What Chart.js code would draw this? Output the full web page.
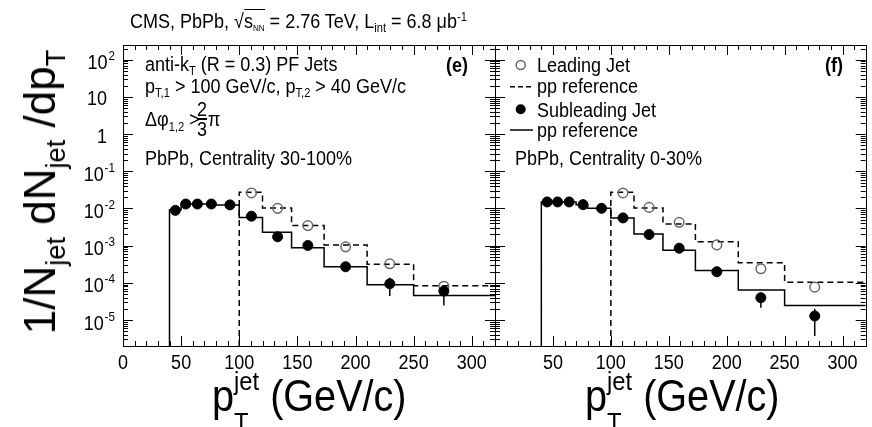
<!DOCTYPE html>
<html>
<head>
<meta charset="utf-8">
<script src="https://cdn.jsdelivr.net/npm/chart.js@4.4.1/dist/chart.umd.min.js"></script>
<style>
  body { margin: 0; background: #fff; }
  #wrap { position: relative; width: 872px; height: 427px; overflow: hidden; font-family: "Liberation Sans", Arial, sans-serif; color: #000; }
  canvas { position: absolute; left: 0; top: 0; }
  .t { position: absolute; white-space: nowrap; line-height: 1; font-size: 20px; transform: scaleX(0.9); transform-origin: 0 0; }
  .sb { position: relative; font-size: 62%; top: 0.35em; }
  .sp { position: relative; font-size: 62%; top: -0.55em; }
  .ss { display: inline-block; position: relative; font-size: 60%; }
  .ss .u { position: relative; top: -0.8em; }
  .ss .d { position: absolute; left: 0; top: 0.75em; }
  .frac { display: inline-block; vertical-align: middle; text-align: center; line-height: 0.9; margin: 0 1px 0 -3px; position: relative; top: -2px; }
  .frac span { display: block; }
  .frac .n { border-bottom: 2px solid #000; }
  .ytitle { position: absolute; left: 40px; top: 192px; font-size: 44px; line-height: 1; white-space: nowrap; transform: translate(-50%, -50%) rotate(-90deg); }
  .xtitle { font-size: 44px; }
  .leg { position: absolute; }
</style>
</head>
<body>
<div id="wrap">
  <canvas id="e" width="872" height="427"></canvas>
  <canvas id="f" width="872" height="427"></canvas>

  <div class="t" style="left:130px;top:11px">CMS, PbPb, √<span style="border-top:1px solid #000">s<span class="sb" style="font-size:45%">NN</span></span> = 2.76 TeV, L<span class="sb">int</span> = 6.8 μb<span class="sp">-1</span></div>

  <div class="ytitle">1/N<span class="sb">jet</span> dN<span class="sb">jet</span> /dp<span class="sb">T</span></div>
  <div class="t xtitle" style="left:212px;top:374px">p<span class="ss"><span class="u">jet</span><span class="d">T</span></span> (GeV/c)</div>
  <div class="t xtitle" style="left:585px;top:374px">p<span class="ss"><span class="u">jet</span><span class="d">T</span></span> (GeV/c)</div>

  <div class="t" style="left:145px;top:54px">anti-k<span class="sb">T</span> (R = 0.3) PF Jets</div>
  <div class="t" style="left:145px;top:76px">p<span class="sb">T,1</span> &gt; 100 GeV/c, p<span class="sb">T,2</span> &gt; 40 GeV/c</div>
  <div class="t" style="left:145px;top:102px">Δφ<span class="sb">1,2</span> &gt;<span class="frac"><span class="n">2</span><span>3</span></span>π</div>
  <div class="t" style="left:145px;top:148px">PbPb, Centrality 30-100%</div>
  <div class="t" style="left:446px;top:55px;font-weight:bold">(e)</div>

  <svg class="leg" style="left:505px;top:55px" width="32" height="85">
    <circle cx="15.7" cy="10" r="4.5" fill="none" stroke="#666" stroke-width="1.5"/>
    <line x1="5" y1="31.7" x2="28" y2="31.7" stroke="#000" stroke-width="1.5" stroke-dasharray="5,3"/>
    <circle cx="15.7" cy="54.3" r="5" fill="#000"/>
    <line x1="5" y1="75" x2="28" y2="75" stroke="#000" stroke-width="1.5"/>
  </svg>
  <div class="t" style="left:537px;top:55px">Leading Jet</div>
  <div class="t" style="left:537px;top:76px">pp reference</div>
  <div class="t" style="left:537px;top:100px">Subleading Jet</div>
  <div class="t" style="left:537px;top:120px">pp reference</div>
  <div class="t" style="left:515px;top:148px">PbPb, Centrality 0-30%</div>
  <div class="t" style="left:825px;top:55px;font-weight:bold">(f)</div>
</div>

<script>
// bin edges (GeV/c)
const subEdges = [40, 50, 60, 70, 80, 100, 120, 145, 173, 210, 250, 320];
const leadEdges = [100, 120, 145, 173, 210, 250, 320];
// marker positions (GeV/c)
const subX = [45, 54, 64, 76, 92, 110.5, 133, 159, 191.5, 229.5, 276];
const leadX = [110.5, 133, 159, 191.5, 229.5, 276];

// panel (e): centrality 30-100%
const ppSubE = [0.0093, 0.0132, 0.0132, 0.0132, 0.0125, 0.0057, 0.0023, 0.000875, 0.00027, 0.000089, 0.000046];
const ppLeadE = [0.0272, 0.01035, 0.00347, 0.00105, 0.000318, 0.000084];
const subE = [0.0089, 0.0132, 0.0132, 0.0132, 0.0125, 0.0062, 0.00173, 0.00101, 0.00027, 0.0000945, 0.000060];
const subLoE = [null, null, null, null, null, null, null, null, null, 0.000044, 0.0000247];
const subHiE = [null, null, null, null, null, null, null, null, null, 0.000137, 0.000081];
const leadE = [0.0262, 0.0101, 0.00347, 0.00093, 0.000325, 0.000081];

// panel (f): centrality 0-30%
const ppSubF = [0.0150, 0.0150, 0.0150, 0.0127, 0.0101, 0.00558, 0.00207, 0.000754, 0.000215, 0.0000637, 0.0000247];
const ppLeadF = [0.0272, 0.01035, 0.00385, 0.00127, 0.000346, 0.000104];
const subF = [0.0150, 0.0150, 0.0150, 0.0127, 0.0101, 0.00558, 0.00199, 0.000853, 0.000199, 0.0000398, 0.0000128];
const subLoF = [null, null, null, null, null, null, null, null, null, 0.0000214, 0.0000037];
const subHiF = [null, null, null, null, null, null, null, null, null, 0.000054, 0.000020];
const leadF = [0.0262, 0.0107, 0.00425, 0.00105, 0.000239, 0.0000766];

// axes
const xMin = 0, xMax = 320;
const yMin = 2e-6, yMax = 250;
const xTicksE = [0, 50, 100, 150, 200, 250, 300];
const xTicksF = [50, 100, 150, 200, 250, 300];
const yTicks = [1e2, 1e1, 1, 1e-1, 1e-2, 1e-3, 1e-4, 1e-5];
const yTickBase = ['10', '10', '1', '10', '10', '10', '10', '10'];
const yTickExp = ['2', '', '', '-1', '-2', '-3', '-4', '-5'];

// histogram outline: start at the bottom of the first edge, one point per bin
function hist(edges, vals) {
  const pts = [{x: edges[0], y: yMin}];
  vals.forEach((v, i) => pts.push({x: edges[i], y: v}));
  pts.push({x: edges[edges.length - 1], y: vals[vals.length - 1]});
  return pts;
}

// ROOT-like frame: inward ticks on all sides, tick labels, error bars
const rootFrame = {
  id: 'rootFrame',
  afterDatasetsDraw(chart) {
    const {ctx, chartArea: a, scales: {x, y}} = chart;
    ctx.save();
    ctx.beginPath();
    ctx.rect(a.left, a.top, a.right - a.left, a.bottom - a.top);
    ctx.clip();
    ctx.strokeStyle = '#000';
    ctx.lineWidth = 1.5;
    chart.data.datasets.forEach(ds => {
      if (!ds.errLo) return;
      ds.data.forEach((p, i) => {
        if (ds.errLo[i] == null) return;
        const px = x.getPixelForValue(p.x);
        ctx.beginPath();
        ctx.moveTo(px, y.getPixelForValue(ds.errLo[i]));
        ctx.lineTo(px, y.getPixelForValue(ds.errHi[i]));
        ctx.stroke();
      });
    });
    ctx.restore();
  },
  afterDraw(chart, args, opts) {
    const {ctx, chartArea: a, scales: {x, y}} = chart;
    ctx.save();
    ctx.strokeStyle = '#000';
    ctx.lineWidth = 1;
    ctx.strokeRect(Math.round(a.left) + 0.5, Math.round(a.top) + 0.5, Math.round(a.right - a.left), Math.round(a.bottom - a.top));
    ctx.beginPath();
    for (let v = xMin; v <= xMax; v += 10) {
      const px = Math.round(x.getPixelForValue(v)) + 0.5;
      const len = v % 50 === 0 ? 10 : 5;
      ctx.moveTo(px, a.bottom); ctx.lineTo(px, a.bottom - len);
      ctx.moveTo(px, a.top); ctx.lineTo(px, a.top + len);
    }
    for (let k = -6; k <= 2; k++) {
      for (let m = 1; m <= 9; m++) {
        const v = m * Math.pow(10, k);
        if (v < yMin || v > yMax) continue;
        const py = Math.round(y.getPixelForValue(v)) + 0.5;
        const len = m === 1 ? 10 : 5;
        ctx.moveTo(a.left, py); ctx.lineTo(a.left + len, py);
        ctx.moveTo(a.right, py); ctx.lineTo(a.right - len, py);
      }
    }
    ctx.stroke();

    ctx.fillStyle = '#000';
    ctx.textBaseline = 'middle';
    ctx.font = '20px "Liberation Sans", Arial, sans-serif';
    opts.xTicks.forEach(v => {
      ctx.save();
      ctx.translate(x.getPixelForValue(v), a.bottom + 17);
      ctx.scale(0.9, 1);
      ctx.textAlign = 'center';
      ctx.fillText(String(v), 0, 0);
      ctx.restore();
    });
    if (opts.yLabels) {
      yTicks.forEach((v, i) => {
        const py = y.getPixelForValue(v);
        ctx.save();
        if (yTickExp[i]) {
          ctx.font = '13px "Liberation Sans", Arial, sans-serif';
          const ew = ctx.measureText(yTickExp[i]).width * 0.9;
          ctx.translate(115, py);
          ctx.scale(0.9, 1);
          ctx.textAlign = 'right';
          ctx.fillText(yTickExp[i], 0, -3);
          ctx.font = '20px "Liberation Sans", Arial, sans-serif';
          ctx.fillText(yTickBase[i], -ew / 0.9 - 1, 4);
        } else {
          ctx.translate(107, py + 3);
          ctx.scale(0.9, 1);
          ctx.textAlign = 'right';
          ctx.fillText(yTickBase[i], 0, 0);
        }
        ctx.restore();
      });
    }
    ctx.restore();
  }
};

function panel(id, pad, d) {
  return new Chart(document.getElementById(id), {
    type: 'line',
    data: {
      datasets: [
        {
          label: 'Subleading Jet',
          data: subX.map((v, i) => ({x: v, y: d.sub[i]})),
          errLo: d.subLo, errHi: d.subHi,
          showLine: false, pointRadius: 5, pointBackgroundColor: '#000', pointBorderColor: '#000', pointBorderWidth: 1,
          order: 0
        },
        {
          label: 'Leading Jet',
          data: leadX.map((v, i) => ({x: v, y: d.lead[i]})),
          showLine: false, pointRadius: 4.8, pointBackgroundColor: 'rgba(0,0,0,0)', pointBorderColor: '#666', pointBorderWidth: 1.5,
          order: 1
        },
        {
          label: 'pp reference (leading)',
          data: hist(leadEdges, d.ppLead),
          stepped: 'before', borderColor: '#000', borderWidth: 1.5, borderDash: [6, 4], pointRadius: 0, fill: false,
          order: 2
        },
        {
          label: 'pp reference (subleading)',
          data: hist(subEdges, d.ppSub),
          stepped: 'before', borderColor: '#000', borderWidth: 1.5, pointRadius: 0, fill: false,
          order: 3
        }
      ]
    },
    options: {
      responsive: false,
      animation: false,
      devicePixelRatio: 1,
      layout: {padding: pad},
      plugins: {legend: {display: false}, tooltip: {enabled: false}, rootFrame: {xTicks: d.xTicks, yLabels: d.yLabels}},
      scales: {
        x: {type: 'linear', min: xMin, max: xMax, display: false},
        y: {type: 'logarithmic', min: yMin, max: yMax, display: false}
      }
    },
    plugins: [rootFrame]
  });
}

panel('e', {left: 123, right: 377, top: 45, bottom: 81},
  {sub: subE, subLo: subLoE, subHi: subHiE, lead: leadE, ppSub: ppSubE, ppLead: ppLeadE, xTicks: xTicksE, yLabels: true});
panel('f', {left: 495, right: 5, top: 45, bottom: 81},
  {sub: subF, subLo: subLoF, subHi: subHiF, lead: leadF, ppSub: ppSubF, ppLead: ppLeadF, xTicks: xTicksF, yLabels: false});
</script>
</body>
</html>
